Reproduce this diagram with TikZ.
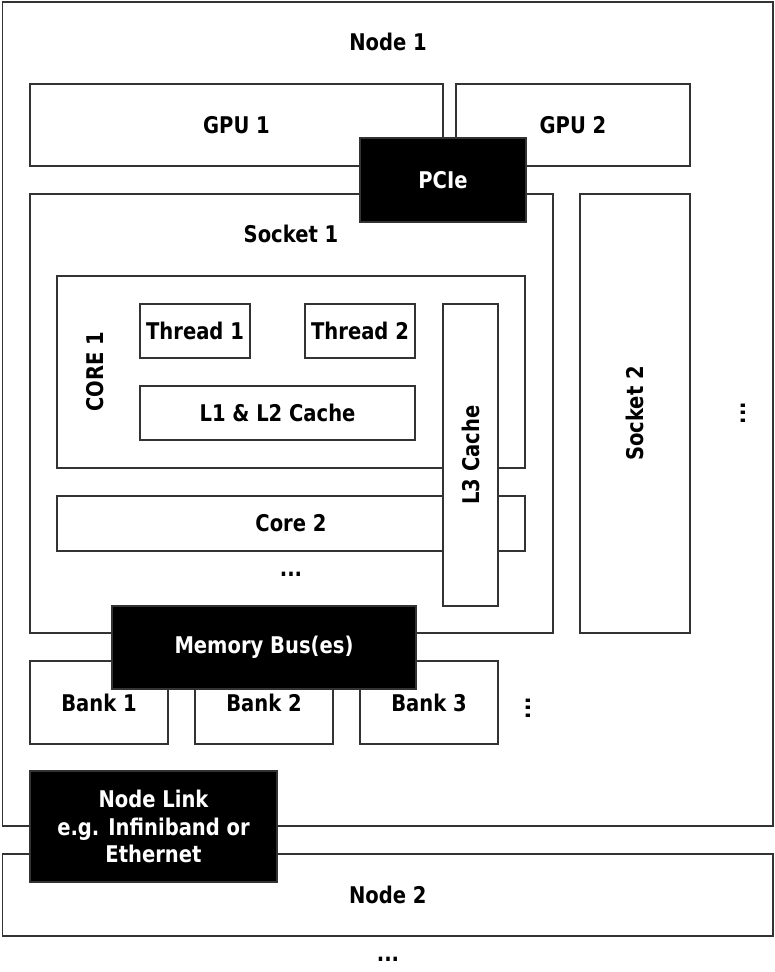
\documentclass[tikz,border=0pt]{standalone}
\usepackage{fontspec}
\setmainfont{DejaVu Sans}[FakeStretch=0.85]
\begin{document}
\begin{tikzpicture}[x=1pt,y=-1pt,
  txt/.style={font=\fontsize{23}{27.5}\selectfont\bfseries},
  box/.style={draw=black!80, line width=1.2pt, fill=white, inner sep=0pt, txt},
  blk/.style={draw=black!80, line width=1.2pt, fill=black, text=white, inner sep=0pt, align=center, txt},
  lbl/.style={inner sep=0pt, txt},
  sz/.style 2 args={minimum width=#1, minimum height=#2}]
\useasboundingbox (0,0) rectangle (774,972);
% Node 1
\node[box, sz={770.5pt}{824pt}] (node1) at (387.75,414) {};
\node[lbl] (node1lbl) at (388,42) {Node 1};
% GPUs
\node[box, sz={413pt}{82pt}] (gpu1) at (236.5,125) {GPU 1};
\node[box, sz={234pt}{82pt}] (gpu2) at (573,125) {GPU 2};
% Sockets
\node[box, sz={523pt}{439pt}] (socket1) at (291.5,413.5) {};
\node[lbl] (socket1lbl) at (291,234) {Socket 1};
\node[box, sz={110pt}{439pt}] (socket2) at (635,413.5) {};
\node[lbl, rotate=90] (socket2lbl) at (635,413.5) {Socket 2};
\node[lbl, rotate=90] (sockdots) at (743,413) {...};
% Core 1
\node[box, sz={468pt}{192pt}] (core1) at (291,372) {};
\node[lbl, rotate=90] (core1lbl) at (95,372) {CORE 1};
\node[box, sz={110pt}{54pt}] (thread1) at (195,331) {Thread 1};
\node[box, sz={110pt}{54pt}] (thread2) at (360,331) {Thread 2};
\node[box, sz={275pt}{54pt}] (l12) at (277.5,413) {L1 \& L2 Cache};
% Core 2
\node[box, sz={468pt}{55pt}] (core2) at (291,523.5) {Core 2};
\node[lbl] (coredots) at (291,574) {...};
% L3
\node[box, sz={55pt}{302pt}] (l3) at (470.5,455) {};
\node[lbl, rotate=90] (l3lbl) at (470.5,455) {L3 Cache};
% PCIe
\node[blk, sz={166pt}{84pt}] (pcie) at (443,180) {PCIe};
% Banks
\node[box, sz={138pt}{83pt}] (bank1) at (99,702.5) {Bank 1};
\node[box, sz={138pt}{83pt}] (bank2) at (264,702.5) {Bank 2};
\node[box, sz={138pt}{83pt}] (bank3) at (429,702.5) {Bank 3};
\node[lbl, rotate=90] (bankdots) at (528,708) {...};
% Memory bus
\node[blk, sz={304pt}{83pt}] (mem) at (264,647.5) {Memory Bus(es)};
% Node 2
\node[box, sz={770.5pt}{82pt}] (node2) at (387.75,895) {Node 2};
\node[lbl] (nodedots) at (388,959) {...};
% Node link
\node[blk, sz={247pt}{111pt}] (link) at (153.5,826.5) {Node Link\\e.g. Infiniband or\\Ethernet};
\end{tikzpicture}
\end{document}
